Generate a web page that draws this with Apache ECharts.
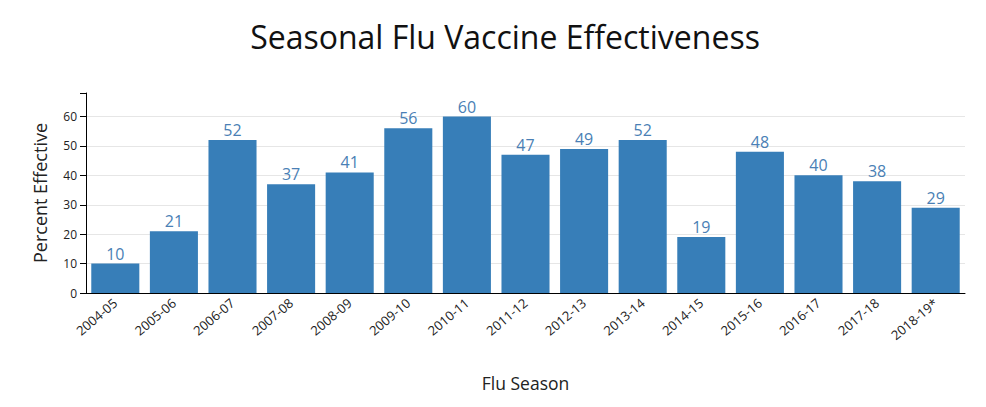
<!DOCTYPE html>
<html><head><meta charset="utf-8">
<script src="https://cdn.jsdelivr.net/npm/echarts@6/dist/echarts.min.js"></script>
<style>html,body{margin:0;padding:0;background:#fff}#c{width:986px;height:407px}</style>
</head><body><div id="c"></div>
<script>
const seasons = ['2004-05','2005-06','2006-07','2007-08','2008-09','2009-10','2010-11','2011-12','2012-13','2013-14','2014-15','2015-16','2016-17','2017-18','2018-19*'];
const effectiveness = [10,21,52,37,41,56,60,47,49,52,19,48,40,38,29];
const yTicks = [0,10,20,30,40,50,60];

const chart = echarts.init(document.getElementById('c'), null, {renderer:'svg'});
const font = '"Open Sans", sans-serif';
chart.setOption({
  animation:false,
  title:{text:'Seasonal Flu Vaccine Effectiveness', left:500, top:15, textAlign:'center',
    textStyle:{fontFamily:font, fontSize:32, fontWeight:'normal', color:'#111'}},
  grid:{left:86, right:21, top:93, bottom:114, containLabel:false},
  xAxis:{type:'category', data:seasons, name:'Flu Season', nameLocation:'middle', nameGap:81,
    nameTextStyle:{fontFamily:font, fontSize:17.5, color:'#222'},
    axisLine:{lineStyle:{color:'#000', width:1}},
    axisTick:{alignWithLabel:true, length:6, lineStyle:{color:'#000'}},
    axisLabel:{rotate:40, fontFamily:font, fontSize:13, color:'#222', margin:8}},
  yAxis:{type:'value', min:0, max:68, interval:10, name:'Percent Effective', nameLocation:'middle', nameGap:37,
    nameTextStyle:{fontFamily:font, fontSize:18, color:'#222'},
    axisLine:{show:true, lineStyle:{color:'#000', width:1}},
    axisTick:{show:true, length:6, lineStyle:{color:'#000'}},
    axisLabel:{fontFamily:font, fontSize:12, color:'#222', margin:9,
      formatter:v => yTicks.includes(v) ? String(v) : ''},
    splitLine:{show:true, showMinLine:false, showMaxLine:false, lineStyle:{color:'#e6e6e6', width:1}}},
  series:[{type:'bar', data:effectiveness, barCategoryGap:'18%',
    itemStyle:{color:'#377eb8'},
    label:{show:true, position:'top', distance:2, fontFamily:font, fontSize:16, color:'#4a7fb5'}}]
});
</script></body></html>
